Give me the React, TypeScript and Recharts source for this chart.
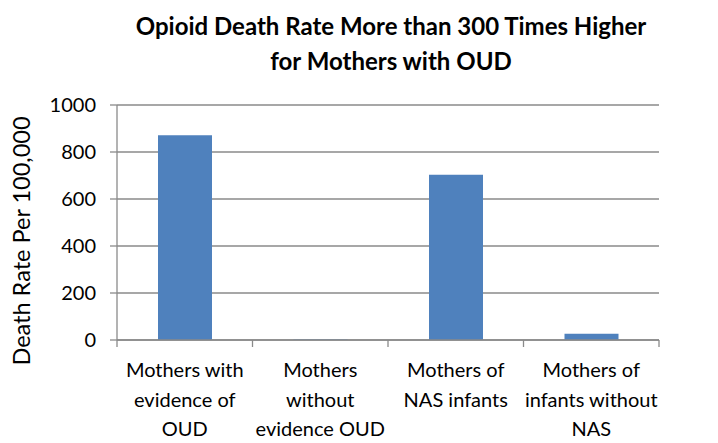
import React from "react";
import { BarChart, Bar, XAxis, YAxis, CartesianGrid, Label } from "recharts";

const categories = [
  "Mothers with evidence of OUD",
  "Mothers without evidence OUD",
  "Mothers of NAS infants",
  "Mothers of infants without NAS",
];
const categoryLines = [
  ["Mothers with", "evidence of", "OUD"],
  ["Mothers", "without", "evidence OUD"],
  ["Mothers of", "NAS infants"],
  ["Mothers of", "infants without", "NAS"],
];
const deathRates = [871, 2, 703, 27];
const yTicks = [0, 200, 400, 600, 800, 1000];

const data = categories.map((c, i) => ({ name: c, idx: i, value: deathRates[i] }));

const W = 718;
const H = 443;
const M = { top: 105, right: 59, bottom: 0, left: 0 };
const Y_W = 117;
const X_H = 103;
const PLOT_LEFT = M.left + Y_W;
const PLOT_RIGHT = W - M.right;
const PLOT_BOTTOM = H - M.bottom - X_H;
const BAND = (PLOT_RIGHT - PLOT_LEFT) / categories.length;
const FONT = "Lato, Calibri, 'Open Sans', sans-serif";
const GRAY = "#8a8a8a";

const XTick = (props: any) => {
  const { x, index } = props;
  const lines = categoryLines[index] || [];
  const left = x - BAND / 2;
  const right = x + BAND / 2;
  return (
    <g>
      <line x1={left} x2={left} y1={PLOT_BOTTOM} y2={PLOT_BOTTOM + 7} stroke={GRAY} strokeWidth={1.3} />
      {index === categories.length - 1 && (
        <line x1={right} x2={right} y1={PLOT_BOTTOM} y2={PLOT_BOTTOM + 7} stroke={GRAY} strokeWidth={1.3} />
      )}
      {lines.map((l: string, i: number) => (
        <text
          key={i}
          x={x}
          y={PLOT_BOTTOM + 32 + i * 29.5}
          textAnchor="middle"
          dominantBaseline="middle"
          fontFamily={FONT}
          fontSize={20}
          fill="#000"
        >
          {l}
        </text>
      ))}
    </g>
  );
};

const YLabel = (props: any) => {
  const vb = props.viewBox || {};
  const cy = (vb.y ?? 105) + (vb.height ?? 235) / 2 + 18.5;
  const cx = 24;
  return (
    <text
      x={cx}
      y={cy}
      transform={`rotate(-90, ${cx}, ${cy})`}
      textAnchor="middle"
      dominantBaseline="middle"
      fontFamily={FONT}
      fontSize={23.5}
      fill="#000"
    >
      Death Rate Per 100,000
    </text>
  );
};

export default function App() {
  return (
    <div style={{ position: "absolute", left: 0, top: 0, width: W, height: H, background: "#fff" }}>
      <div
        style={{
          position: "absolute",
          left: 91,
          top: 7.5,
          width: 600,
          textAlign: "center",
          fontFamily: FONT,
          fontWeight: "bold",
          fontSize: 24,
          lineHeight: "35px",
          color: "#000",
        }}
      >
        Opioid Death Rate More than 300 Times Higher
        <br />
        for Mothers with OUD
      </div>
      <BarChart width={W} height={H} data={data} margin={M} barSize={54}>
        <CartesianGrid vertical={false} stroke={GRAY} strokeWidth={1.3} />
        <XAxis
          dataKey="name"
          height={X_H}
          interval={0}
          axisLine={{ stroke: GRAY, strokeWidth: 1.3 }}
          tickLine={false}
          tick={<XTick />}
        />
        <YAxis
          width={Y_W}
          domain={[0, 1000]}
          ticks={yTicks}
          interval={0}
          axisLine={{ stroke: GRAY, strokeWidth: 1.3 }}
          tickLine={{ stroke: GRAY, strokeWidth: 1.3 }}
          tickSize={7}
          tickMargin={14}
          tick={{ fontFamily: FONT, fontSize: 20, fill: "#000" }}
        >
          <Label content={<YLabel />} position="insideLeft" />
        </YAxis>
        <Bar dataKey="value" fill="#4F81BD" isAnimationActive={false} />
      </BarChart>
    </div>
  );
}
